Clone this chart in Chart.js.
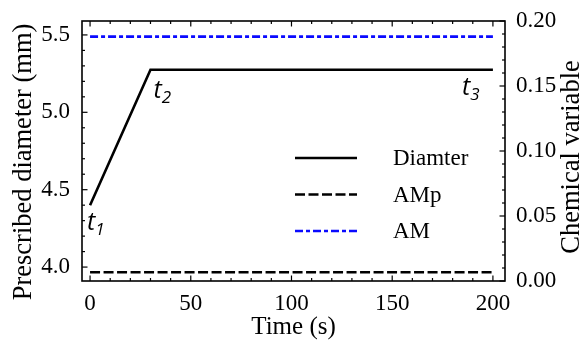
<!DOCTYPE html>
<html>
<head>
<meta charset="utf-8">
<script src="https://cdn.jsdelivr.net/npm/chart.js@4.4.0/dist/chart.umd.min.js"></script>
<style>
  body { margin: 0; background: #fff; }
  #wrap { width: 583px; height: 343px; }
</style>
</head>
<body>
<div id="wrap"><canvas id="myChart" width="583" height="343"></canvas></div>
<script>
// prescribed diameter (mm) against time (s): ramp then plateau
var timeDiameter = [0, 30, 200];
var diameter = [4.4, 5.275, 5.275];

// chemical variables, constant over the run
var timeChem = [0, 200];
var amp = [0.0067, 0.0067];
var am = [0.188, 0.188];

var seriesNames = ["Diamter", "AMp", "AM"];
var xTicks = [0, 50, 100, 150, 200];
var yTicks = [4.0, 4.5, 5.0, 5.5];
var y1Ticks = [0, 0.05, 0.10, 0.15, 0.20];
var yTitles = ["Prescribed diameter (mm)", "Chemical variable"];
// t1, t2, t3 mark the corners of the diameter curve
var markerSubs = ["1", "2", "3"];

var SERIF = "'Liberation Serif', 'Times New Roman', serif";
Chart.defaults.color = "#000";
Chart.defaults.font.family = SERIF;

function pts(xs, ys) {
    return xs.map(function (x, i) { return { x: x, y: ys[i] }; });
}
function fixTicks(list) {
    return function (scale) {
        scale.ticks = list.map(function (v) { return { value: v }; });
    };
}

// frame with inward major and minor ticks on all four sides
var framePlugin = {
    id: "frame",
    afterDatasetsDraw: function (chart) {
        var ctx = chart.ctx;
        var a = chart.chartArea;
        var sx = chart.scales.x, sy = chart.scales.y, sy1 = chart.scales.y1;
        ctx.save();
        ctx.strokeStyle = "#000";
        ctx.lineWidth = 1.2;

        function marks(scale, step, major, len, side) {
            var n0 = Math.ceil(scale.min / step - 1e-6);
            var n1 = Math.floor(scale.max / step + 1e-6);
            for (var n = n0; n <= n1; n++) {
                var v = n * step;
                var isMajor = Math.abs(v / major - Math.round(v / major)) < 1e-6;
                var l = isMajor ? len : len * 0.55;
                var p = scale.getPixelForValue(v);
                ctx.beginPath();
                if (side == "left") { ctx.moveTo(a.left, p); ctx.lineTo(a.left + l, p); }
                if (side == "right") { ctx.moveTo(a.right, p); ctx.lineTo(a.right - l, p); }
                if (side == "bottom") { ctx.moveTo(p, a.bottom); ctx.lineTo(p, a.bottom - l); }
                if (side == "top") { ctx.moveTo(p, a.top); ctx.lineTo(p, a.top + l); }
                ctx.stroke();
            }
        }
        marks(sx, 10, 50, 5.5, "bottom");
        marks(sx, 10, 50, 5.5, "top");
        marks(sy, 0.1, 0.5, 5.5, "left");
        marks(sy1, 0.01, 0.05, 5.5, "right");

        ctx.lineWidth = 1.6;
        ctx.strokeRect(a.left, a.top, a.right - a.left, a.bottom - a.top);
        ctx.restore();
    },
    afterDraw: function (chart) {
        var ctx = chart.ctx;
        ctx.save();

        // both vertical axis titles read bottom to top
        ctx.fillStyle = "#000";
        ctx.font = "26.5px " + SERIF;
        ctx.textAlign = "center";
        ctx.textBaseline = "middle";
        [[24, 162, yTitles[0]], [572, 157, yTitles[1]]].forEach(function (t) {
            ctx.save();
            ctx.translate(t[0], t[1]);
            ctx.rotate(-Math.PI / 2);
            ctx.fillText(t[2], 0, 0);
            ctx.restore();
        });

        // legend, drawn from each dataset's own line style
        chart.data.datasets.forEach(function (ds, i) {
            var y = 158 + i * 36.5;
            ctx.beginPath();
            ctx.strokeStyle = ds.borderColor;
            ctx.lineWidth = ds.borderWidth;
            ctx.setLineDash(ds.borderDash || []);
            ctx.moveTo(295, y);
            ctx.lineTo(357, y);
            ctx.stroke();
            ctx.setLineDash([]);
            ctx.fillStyle = "#000";
            ctx.font = "23px " + SERIF;
            ctx.textBaseline = "middle";
            ctx.textAlign = "left";
            ctx.fillText(ds.label, 393, y + 1);
        });

        // t labels next to the diameter corners
        var sx = chart.scales.x, sy = chart.scales.y;
        var offs = [[-3, 25], [3, 28], [-31, 25]];
        timeDiameter.forEach(function (t, i) {
            var px = sx.getPixelForValue(t) + offs[i][0];
            var py = sy.getPixelForValue(diameter[i]) + offs[i][1];
            ctx.fillStyle = "#000";
            ctx.textAlign = "left";
            ctx.textBaseline = "alphabetic";
            ctx.font = "italic 25px 'Open Sans', 'Noto Sans', sans-serif";
            ctx.fillText("t", px, py);
            var w = ctx.measureText("t").width;
            ctx.font = "italic 17px 'Open Sans', 'Noto Sans', sans-serif";
            ctx.fillText(markerSubs[i], px + w, py + 5);
        });
        ctx.restore();
    }
};

new Chart("myChart", {
    type: "line",
    data: {
        datasets: [{
            label: seriesNames[0],
            data: pts(timeDiameter, diameter),
            borderColor: "#000",
            borderWidth: 2.6,
            yAxisID: "y"
        }, {
            label: seriesNames[1],
            data: pts(timeChem, amp),
            borderColor: "#000",
            borderWidth: 2.6,
            borderDash: [10, 3.5],
            yAxisID: "y1"
        }, {
            label: seriesNames[2],
            data: pts(timeChem, am),
            borderColor: "#0a0aff",
            borderWidth: 2.6,
            borderDash: [8, 3, 4, 3],
            yAxisID: "y1"
        }]
    },
    options: {
        responsive: false,
        animation: false,
        layout: { padding: { top: 21, left: 0, right: 0, bottom: 0 } },
        elements: { point: { radius: 0 }, line: { tension: 0, borderCapStyle: "butt" } },
        plugins: { legend: { display: false }, tooltip: { enabled: false } },
        scales: {
            x: {
                type: "linear", position: "bottom", min: -4, max: 206,
                afterBuildTicks: fixTicks(xTicks),
                afterFit: function (s) { s.height = 62; },
                grid: { display: false }, border: { display: false },
                ticks: { font: { size: 23 }, padding: 1, maxRotation: 0, autoSkip: false },
                title: { display: true, text: "Time (s)", font: { size: 25, lineHeight: 1 }, padding: { top: 0, bottom: 3 } }
            },
            y: {
                type: "linear", position: "left", min: 3.91, max: 5.59,
                afterBuildTicks: fixTicks(yTicks),
                afterFit: function (s) { s.width = 82; },
                grid: { display: false }, border: { display: false },
                ticks: { font: { size: 23 }, padding: 4, autoSkip: false,
                    callback: function (v) { return Number(v).toFixed(1); } }
            },
            y1: {
                type: "linear", position: "right", min: 0, max: 0.2,
                afterBuildTicks: fixTicks(y1Ticks),
                afterFit: function (s) { s.width = 78; },
                grid: { display: false }, border: { display: false },
                ticks: { font: { size: 23 }, padding: 3, autoSkip: false,
                    callback: function (v) { return Number(v).toFixed(2); } }
            }
        }
    },
    plugins: [framePlugin]
});
</script>
</body>
</html>
